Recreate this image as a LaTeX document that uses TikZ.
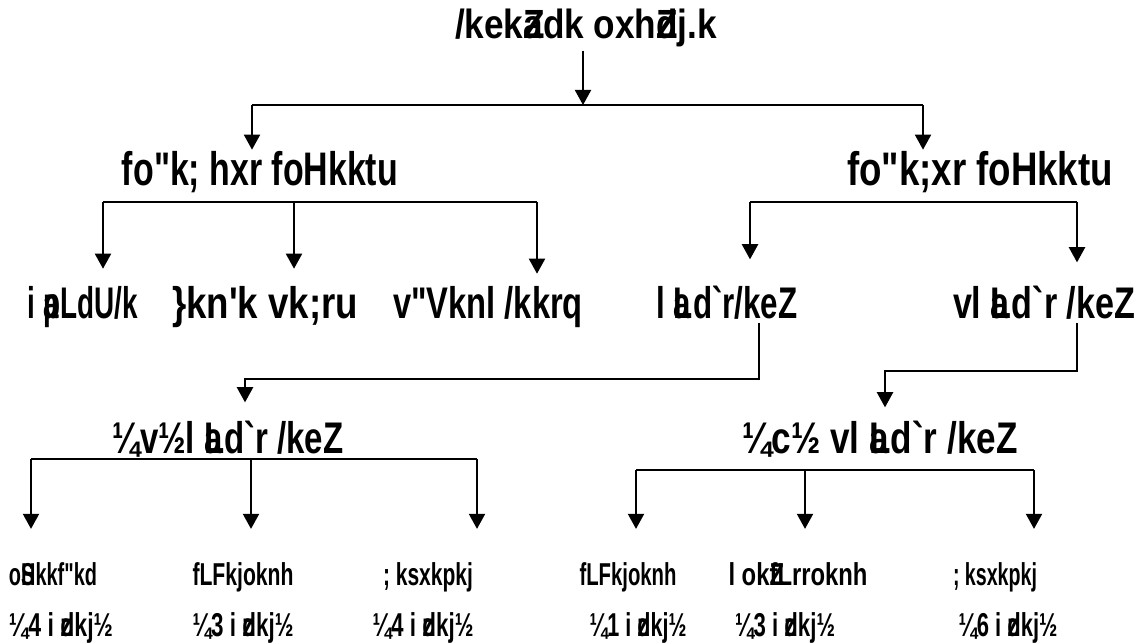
\documentclass[tikz,border=0pt]{standalone}
\usepackage{fontspec}
\usepackage{graphicx}
\newfontfamily\kdfont{Liberation Sans}
\usetikzlibrary{arrows.meta, positioning}
% stretch a label to a given width (cm), height kept
\def\kd#1#2{\resizebox{#1cm}{\height}{#2}}

\begin{document}
\begin{tikzpicture}[
    lbl/.style={inner sep=1pt, anchor=base},
    tA/.style={lbl, font=\kdfont\bfseries\fontsize{11.6}{13}\selectfont},
    tB/.style={lbl, font=\kdfont\bfseries\fontsize{13.4}{15}\selectfont},
    tC/.style={lbl, font=\kdfont\bfseries\fontsize{12.6}{14}\selectfont},
    tD/.style={lbl, font=\kdfont\bfseries\fontsize{9}{11}\selectfont},
    tE/.style={lbl, font=\kdfont\bfseries\fontsize{9.4}{11}\selectfont},
    link/.style={line width=0.5pt},
    arr/.style={link, -{Triangle[width=4.6pt,length=4.3pt]}}
  ]
    \useasboundingbox (0,0) rectangle (11.47,-6.43);

    % Title
    \node[tA] (title) at (5.86,-0.38) {\kd{2.62}{/kek\rlap{Z}adk oxh\rlap{Z}dj.k}};

    % Second level
    \node[tB] (subj) at (2.60,-1.85) {\kd{2.76}{fo"k; hxr foHkktu}};
    \node[tB] (obj) at (9.80,-1.85) {\kd{2.66}{fo"k;xr foHkktu}};

    % Third level
    \node[tC] (skandha) at (0.83,-3.18) {\kd{1.10}{i \rlap{a}pLdU/k}};
    \node[tC] (ayatana) at (2.65,-3.18) {\kd{1.86}{\}kn'k vk;ru}};
    \node[tC] (dhatu) at (4.88,-3.18) {\kd{1.90}{v"Vknl /kkrq}};
    \node[tC] (sams) at (7.27,-3.18) {\kd{1.41}{l \rlap{a}Ld`r/keZ}};
    \node[tC] (asams) at (10.44,-3.18) {\kd{1.82}{vl \rlap{a}Ld`r /keZ}};

    % Fourth level
    \node[tC] (samsA) at (2.28,-4.53) {\kd{2.31}{¼v½l \rlap{a}Ld`r /keZ}};
    \node[tC] (asamsB) at (8.80,-4.53) {\kd{2.75}{¼c½ vl \rlap{a}Ld`r /keZ}};

    % Schools
    \node[tD] (vaibh) at (0.53,-5.85) {\kd{0.88}{o\rlap{S}Hkkf"kd}};
    \node[tD] (sthirL) at (2.43,-5.85) {\kd{1.01}{fLFkjoknh}};
    \node[tD] (yogaL) at (4.28,-5.85) {\kd{0.90}{; ksxkpkj}};
    \node[tD] (sthirR) at (6.28,-5.85) {\kd{0.97}{fLFkjoknh}};
    \node[tD] (sarva) at (7.98,-5.85) {\kd{1.39}{l ok\rlap{Z}fLrroknh}};
    \node[tD] (yogaR) at (9.95,-5.85) {\kd{0.84}{; ksxkpkj}};

    % Kinds
    \node[tE] (kindA) at (0.61,-6.36) {\kd{1.04}{¼4 i \rlap{z}dkj½}};
    \node[tE] (kindB) at (2.43,-6.36) {\kd{1.01}{¼3 i \rlap{z}dkj½}};
    \node[tE] (kindC) at (4.23,-6.36) {\kd{1.01}{¼4 i \rlap{z}dkj½}};
    \node[tE] (kindD) at (6.38,-6.36) {\kd{0.97}{¼1 i \rlap{z}dkj½}};
    \node[tE] (kindE) at (7.85,-6.36) {\kd{1.00}{¼3 i \rlap{z}dkj½}};
    \node[tE] (kindF) at (10.08,-6.36) {\kd{0.99}{¼6 i \rlap{z}dkj½}};

    % Title split
    \coordinate (sL) at (2.52,-1.05);
    \coordinate (sR) at (9.23,-1.05);
    \draw[arr] ([xshift=-0.3mm]title.south) -- ([xshift=-0.3mm]title.south |- sL);
    \draw[link] (sL) -- (sR);
    \draw[arr, shorten >=-0.3mm] (sL) -- (sL |- subj.north);
    \draw[arr, shorten >=-0.3mm] (sR) -- (sR |- obj.north);

    % Left split
    \coordinate (bL) at (1.03,-2.02);
    \coordinate (bM) at (2.94,-2.02);
    \coordinate (bR) at (5.37,-2.02);
    \draw[link] (bL) -- (bR);
    \draw[arr, shorten >=1.3mm] (bL) -- (bL |- skandha.north);
    \draw[arr, shorten >=1.3mm] (bM) -- (bM |- ayatana.north);
    \draw[arr, shorten >=0.8mm] (bR) -- (bR |- dhatu.north);

    % Right split
    \coordinate (cL) at (7.50,-2.02);
    \coordinate (cR) at (10.77,-2.02);
    \draw[link] (cL) -- (cR);
    \draw[arr, shorten >=2.2mm] (cL) -- (cL |- sams.north);
    \draw[arr, shorten >=1.9mm] (cR) -- (cR |- asams.north);

    % Down to the two kinds
    \coordinate (kA) at (2.45,-3.79);
    \coordinate (kB) at (8.85,-3.71);
    \draw[arr, shorten >=1.4mm] ([xshift=3.2mm]sams.south) |- (kA) -- (kA |- samsA.north);
    \draw[arr, shorten >=0.9mm] ([xshift=3.3mm]asams.south) |- (kB) -- (kB |- asamsB.north);

    % Schools, left
    \coordinate (dL) at (0.31,-4.59);
    \coordinate (dM) at (2.51,-4.59);
    \coordinate (dR) at (4.77,-4.59);
    \draw[link] (dL) -- (dR);
    \draw[arr, shorten >=2.9mm] (dL) -- (dL |- vaibh.north);
    \draw[arr, shorten >=2.9mm] (dM) -- (dM |- sthirL.north);
    \draw[arr, shorten >=2.9mm] (dR) -- (dR |- yogaL.north);

    % Schools, right
    \coordinate (eL) at (6.36,-4.70);
    \coordinate (eM) at (8.05,-4.70);
    \coordinate (eR) at (10.34,-4.70);
    \draw[link] (eL) -- (eR);
    \draw[arr, shorten >=2.9mm] (eL) -- (eL |- sthirR.north);
    \draw[arr, shorten >=2.9mm] (eM) -- (eM |- sarva.north);
    \draw[arr, shorten >=2.9mm] (eR) -- (eR |- yogaR.north);
\end{tikzpicture}
\end{document}
